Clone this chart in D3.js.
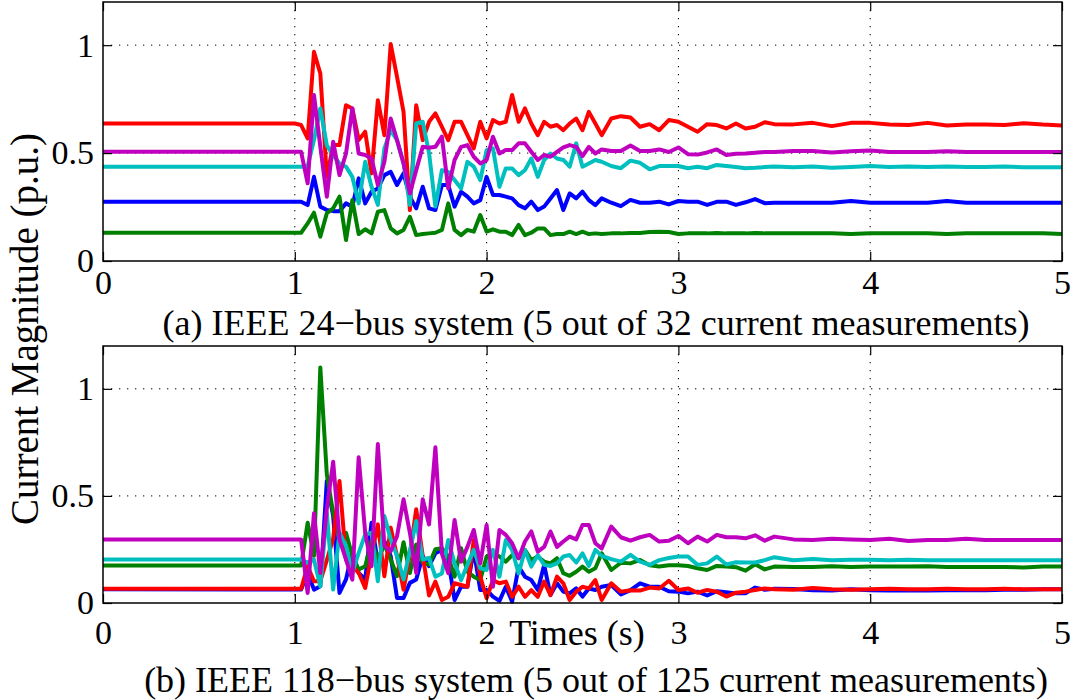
<!DOCTYPE html>
<html>
<head>
<meta charset="utf-8">
<script src="https://cdn.jsdelivr.net/npm/d3@7"></script>
<style>
  body { margin: 0; background: #fff; }
  svg { display: block; font-family: "Liberation Serif", "Times New Roman", serif; }
</style>
</head>
<body>
<svg id="chart" width="1071" height="700"></svg>
<script>
// sample times (s) shared by both panels
const time = [0,
  1.000, 1.033, 1.067, 1.100, 1.133, 1.167, 1.200, 1.233, 1.267, 1.300, 1.333, 1.367,
  1.400, 1.433, 1.467, 1.500, 1.533, 1.567, 1.600, 1.633, 1.667, 1.700, 1.733, 1.767,
  1.800, 1.833, 1.867, 1.900, 1.933, 1.967, 2.000, 2.033, 2.067, 2.100, 2.133, 2.167,
  2.200, 2.233, 2.267, 2.300, 2.333, 2.367, 2.400, 2.433, 2.467, 2.500, 2.533, 2.567,
  2.60, 2.65, 2.70, 2.75, 2.80, 2.85, 2.90, 2.95, 3.00, 3.05, 3.10, 3.15, 3.20, 3.25,
  3.30, 3.35, 3.40, 3.45, 3.50,
  3.6, 3.7, 3.8, 3.9, 4.0, 4.1, 4.2, 4.3, 4.4, 4.5, 4.6, 4.7, 4.8, 4.9, 5.0];

// (a) IEEE 24-bus, current magnitudes (p.u.)
const bus24Blue = [0.275,
  0.275, 0.275, 0.259, 0.39, 0.252, 0.236, 0.231, 0.231, 0.267, 0.252, 0.383, 0.267,
  0.321, 0.336, 0.398, 0.413, 0.352, 0.406, 0.298, 0.244, 0.344, 0.244, 0.236, 0.352,
  0.352, 0.252, 0.321, 0.298, 0.267, 0.282, 0.39, 0.306, 0.306, 0.298, 0.29, 0.259,
  0.244, 0.275, 0.236, 0.252, 0.29, 0.329, 0.236, 0.313, 0.29, 0.321, 0.282, 0.259,
  0.29, 0.27, 0.254, 0.283, 0.27, 0.27, 0.275, 0.262, 0.278, 0.275, 0.275, 0.26, 0.274,
  0.275, 0.26, 0.272, 0.287, 0.268, 0.27,
  0.27, 0.27, 0.27, 0.278, 0.27, 0.27, 0.27, 0.27, 0.278, 0.27, 0.27, 0.27, 0.27, 0.27, 0.27];
const bus24Green = [0.131,
  0.131, 0.131, 0.174, 0.224, 0.113, 0.221, 0.244, 0.298, 0.097, 0.282, 0.125, 0.147,
  0.128, 0.228, 0.236, 0.151, 0.128, 0.144, 0.205, 0.12, 0.125, 0.128, 0.131, 0.144,
  0.267, 0.144, 0.12, 0.144, 0.136, 0.213, 0.136, 0.147, 0.136, 0.136, 0.12, 0.167,
  0.12, 0.131, 0.151, 0.151, 0.12, 0.125, 0.125, 0.136, 0.125, 0.136, 0.125, 0.128,
  0.125, 0.128, 0.128, 0.13, 0.13, 0.134, 0.135, 0.134, 0.125, 0.128, 0.128, 0.128, 0.13,
  0.128, 0.128, 0.128, 0.13, 0.128, 0.128,
  0.128, 0.128, 0.128, 0.125, 0.128, 0.128, 0.128, 0.128, 0.125, 0.128, 0.128, 0.128, 0.128, 0.128, 0.125];
const bus24Red = [0.637,
  0.637, 0.63, 0.568, 0.969, 0.869, 0.39, 0.537, 0.537, 0.722, 0.707, 0.56, 0.599,
  0.406, 0.745, 0.583, 1.005, 0.853, 0.691, 0.236, 0.722, 0.56, 0.645, 0.684, 0.622,
  0.56, 0.645, 0.645, 0.583, 0.522, 0.645, 0.568, 0.653, 0.637, 0.645, 0.769, 0.645,
  0.707, 0.637, 0.583, 0.645, 0.622, 0.63, 0.606, 0.637, 0.66, 0.606, 0.691, 0.637,
  0.583, 0.66, 0.671, 0.665, 0.622, 0.634, 0.606, 0.653, 0.645, 0.622, 0.599, 0.634, 0.63,
  0.614, 0.637, 0.614, 0.622, 0.643, 0.634,
  0.633, 0.64, 0.625, 0.64, 0.64, 0.632, 0.63, 0.64, 0.628, 0.632, 0.632, 0.63, 0.638, 0.632, 0.628];
const bus24Cyan = [0.437,
  0.437, 0.437, 0.44, 0.56, 0.707, 0.536, 0.49, 0.452, 0.437, 0.39, 0.267, 0.46,
  0.344, 0.26, 0.521, 0.606, 0.56, 0.452, 0.26, 0.637, 0.645, 0.5, 0.252, 0.421,
  0.413, 0.375, 0.336, 0.46, 0.437, 0.375, 0.514, 0.522, 0.344, 0.429, 0.429, 0.398,
  0.421, 0.475, 0.39, 0.468, 0.498, 0.475, 0.468, 0.437, 0.545, 0.437, 0.452, 0.468,
  0.46, 0.44, 0.43, 0.465, 0.455, 0.425, 0.44, 0.44, 0.44, 0.43, 0.437, 0.43, 0.445,
  0.44, 0.435, 0.43, 0.432, 0.435, 0.438,
  0.434, 0.438, 0.432, 0.436, 0.44, 0.436, 0.438, 0.436, 0.438, 0.436, 0.436, 0.438, 0.434, 0.434, 0.434];
const bus24Magenta = [0.506,
  0.506, 0.506, 0.36, 0.769, 0.53, 0.298, 0.552, 0.398, 0.498, 0.707, 0.498, 0.491,
  0.475, 0.352, 0.46, 0.66, 0.56, 0.452, 0.313, 0.421, 0.529, 0.525, 0.529, 0.576,
  0.336, 0.468, 0.529, 0.537, 0.483, 0.452, 0.468, 0.576, 0.498, 0.514, 0.514, 0.545,
  0.545, 0.506, 0.468, 0.491, 0.483, 0.506, 0.526, 0.537, 0.529, 0.486, 0.529, 0.498,
  0.517, 0.51, 0.51, 0.535, 0.51, 0.51, 0.517, 0.505, 0.526, 0.495, 0.493, 0.503, 0.517,
  0.491, 0.497, 0.498, 0.502, 0.505, 0.505,
  0.51, 0.51, 0.503, 0.508, 0.512, 0.505, 0.505, 0.505, 0.508, 0.505, 0.505, 0.505, 0.505, 0.505, 0.505];

// (b) IEEE 118-bus, current magnitudes (p.u.)
const bus118Blue = [0.064,
  0.0625, 0.0625, 0.14, 0.0625, 0.078, 0.57, 0.406, 0.047, 0.11, 0.242, 0.14, 0.11,
  0.375, 0.1875, 0.289, 0.219, 0.023, 0.023, 0.094, 0.11, 0.219, 0.172, 0.232, 0.248,
  0.201, 0.014, 0.076, 0.076, 0.248, 0.061, 0.061, 0.03, 0.01, 0.076, 0.006, 0.17,
  0.123, 0.107, 0.061, 0.178, 0.037, 0.092, 0.053, 0.045, 0.068, 0.03, 0.068, 0.061,
  0.076, 0.084, 0.04, 0.06, 0.092, 0.076, 0.076, 0.055, 0.053, 0.045, 0.053, 0.035, 0.055,
  0.05, 0.045, 0.045, 0.072, 0.062, 0.066,
  0.065, 0.06, 0.058, 0.064, 0.06, 0.058, 0.06, 0.058, 0.06, 0.06, 0.06, 0.062, 0.062, 0.064, 0.064];
const bus118Green = [0.175,
  0.175, 0.175, 0.375, 0.22, 1.1, 0.6, 0.42, 0.3, 0.328, 0.219, 0.156, 0.172,
  0.289, 0.203, 0.273, 0.203, 0.125, 0.284, 0.14, 0.273, 0.1875, 0.18, 0.251, 0.256,
  0.217, 0.123, 0.256, 0.146, 0.123, 0.107, 0.217, 0.232, 0.217, 0.193, 0.224, 0.209,
  0.248, 0.201, 0.217, 0.193, 0.185, 0.209, 0.139, 0.127, 0.146, 0.17, 0.146, 0.162,
  0.232, 0.154, 0.188, 0.185, 0.201, 0.176, 0.17, 0.176, 0.176, 0.173, 0.162, 0.154, 0.173,
  0.17, 0.167, 0.151, 0.181, 0.157, 0.17,
  0.168, 0.168, 0.172, 0.168, 0.17, 0.17, 0.17, 0.172, 0.168, 0.168, 0.168, 0.168, 0.166, 0.17, 0.17];
const bus118Red = [0.066,
  0.066, 0.066, 0.172, 0.102, 0.102, 0.2, 0.3, 0.57, 0.203, 0.172, 0.141, 0.07,
  0.227, 0.367, 0.125, 0.352, 0.219, 0.0625, 0.227, 0.438, 0.219, 0.035, 0.1, 0.014,
  0.029, 0.092, 0.084, 0.076, 0.294, 0.123, 0.022, 0.107, 0.092, 0.1, 0.029, 0.076,
  0.029, 0.06, 0.029, 0.1, 0.037, 0.123, 0.092, 0.014, 0.053, 0.076, 0.068, 0.107,
  0.014, 0.092, 0.053, 0.06, 0.058, 0.072, 0.068, 0.104, 0.061, 0.068, 0.048, 0.061, 0.053,
  0.03, 0.048, 0.053, 0.061, 0.068, 0.064,
  0.062, 0.07, 0.064, 0.062, 0.064, 0.066, 0.064, 0.064, 0.066, 0.064, 0.064, 0.066, 0.064, 0.064, 0.064];
const bus118Cyan = [0.203,
  0.203, 0.203, 0.1875, 0.203, 0.078, 0.42, 0.0625, 0.328, 0.266, 0.14, 0.234, 0.32,
  0.328, 0.102, 0.406, 0.297, 0.219, 0.11, 0.242, 0.383, 0.203, 0.21, 0.123, 0.138,
  0.294, 0.185, 0.107, 0.178, 0.248, 0.162, 0.154, 0.248, 0.123, 0.294, 0.248, 0.138,
  0.248, 0.17, 0.224, 0.178, 0.173, 0.185, 0.217, 0.224, 0.189, 0.232, 0.173, 0.248,
  0.22, 0.205, 0.193, 0.225, 0.193, 0.178, 0.2, 0.21, 0.217, 0.217, 0.178, 0.185, 0.217,
  0.18, 0.19, 0.189, 0.189, 0.2, 0.214,
  0.2, 0.205, 0.2, 0.202, 0.202, 0.2, 0.202, 0.2, 0.2, 0.2, 0.2, 0.2, 0.2, 0.2, 0.2];
const bus118Magenta = [0.297,
  0.297, 0.297, 0.047, 0.419, 0.14, 0.44, 0.66, 0.297, 0.203, 0.109, 0.68, 0.328,
  0.172, 0.742, 0.266, 0.242, 0.312, 0.484, 0.328, 0.14, 0.484, 0.367, 0.727, 0.23,
  0.139, 0.388, 0.193, 0.262, 0.341, 0.185, 0.364, 0.076, 0.341, 0.318, 0.279, 0.209,
  0.287, 0.334, 0.24, 0.262, 0.334, 0.262, 0.287, 0.31, 0.297, 0.364, 0.364, 0.279,
  0.255, 0.357, 0.307, 0.291, 0.307, 0.318, 0.287, 0.291, 0.313, 0.279, 0.31, 0.287, 0.318,
  0.307, 0.307, 0.302, 0.316, 0.291, 0.31,
  0.297, 0.294, 0.3, 0.297, 0.294, 0.3, 0.29, 0.294, 0.294, 0.3, 0.294, 0.294, 0.294, 0.294, 0.294];

// MATLAB default line order: b, g, r, c, m
const colors = ["#0000ff", "#008000", "#ff0000", "#00bfbf", "#bf00bf"];
const xTicks = [0, 1, 2, 3, 4, 5];
const yTicks = [0, 0.5, 1];
const yTickLabels = ["0", "0.5", "1"];
const captions = [
  "(a) IEEE 24\u2212bus system (5 out of 32 current measurements)",
  "(b) IEEE 118\u2212bus system (5 out of 125 current measurements)"
];

const panels = [
  { series: [bus24Blue, bus24Green, bus24Red, bus24Cyan, bus24Magenta], top: 2, bottom: 261, caption: captions[0], capY: 335, xPad: 9 },
  { series: [bus118Blue, bus118Green, bus118Red, bus118Cyan, bus118Magenta], top: 346, bottom: 603, caption: captions[1], capY: 692, xPad: 17 }
];

const left = 103, right = 1062;
const tickLen = 9;
const fontSize = 34;

const svg = d3.select("#chart");

const x = d3.scaleLinear().domain([0, 5]).range([left, right]);

panels.forEach((p, pi) => {
  const y = d3.scaleLinear().domain([0, 1.2]).range([p.bottom, p.top]);
  const g = svg.append("g");

  // dotted grid
  g.append("g")
    .selectAll("line")
    .data(xTicks.slice(1, -1))
    .enter()
    .append("line")
    .attr("x1", d => x(d)).attr("x2", d => x(d))
    .attr("y1", p.top).attr("y2", p.bottom)
    .attr("stroke", "#000")
    .attr("stroke-width", 1)
    .attr("stroke-dasharray", "1.3,6.7");
  g.append("g")
    .selectAll("line")
    .data(yTicks.slice(1))
    .enter()
    .append("line")
    .attr("x1", left).attr("x2", right)
    .attr("y1", d => y(d)).attr("y2", d => y(d))
    .attr("stroke", "#000")
    .attr("stroke-width", 1)
    .attr("stroke-dasharray", "1.3,6.7");

  // series
  const line = d3.line()
    .x((d, i) => x(time[i]))
    .y(d => y(d));
  g.append("g")
    .selectAll("path")
    .data(p.series)
    .enter()
    .append("path")
    .attr("d", d => line(d))
    .attr("fill", "none")
    .attr("stroke", (d, i) => colors[i])
    .attr("stroke-width", 4)
    .attr("stroke-linejoin", "round");

  // axes (ticks pointing in, MATLAB style)
  const xAxis = d3.axisBottom(x).tickValues(xTicks).tickFormat(d3.format("d"))
    .tickSizeInner(-tickLen).tickSizeOuter(0).tickPadding(p.xPad);
  const xAxisTop = d3.axisTop(x).tickValues(xTicks).tickFormat("")
    .tickSizeInner(-tickLen).tickSizeOuter(0);
  const yAxis = d3.axisLeft(y).tickValues(yTicks).tickFormat((d, i) => yTickLabels[i])
    .tickSizeInner(-tickLen).tickSizeOuter(0).tickPadding(9);
  const yAxisRight = d3.axisRight(y).tickValues(yTicks).tickFormat("")
    .tickSizeInner(-tickLen).tickSizeOuter(0);

  const gx = g.append("g").attr("transform", `translate(0,${p.bottom})`).call(xAxis);
  g.append("g").attr("transform", `translate(0,${p.top})`).call(xAxisTop);
  const gy = g.append("g").attr("transform", `translate(${left},0)`).call(yAxis);
  g.append("g").attr("transform", `translate(${right},0)`).call(yAxisRight);

  g.selectAll(".domain").remove();
  g.selectAll(".tick line").attr("stroke", "#000").attr("stroke-width", 1.2);
  gx.selectAll("text").attr("font-size", fontSize).attr("font-family", "Liberation Serif").attr("fill", "#000")
    .attr("dy", "0.72em");
  gy.selectAll("text").attr("font-size", fontSize).attr("font-family", "Liberation Serif").attr("fill", "#000")
    .attr("dy", "0.32em");

  // box
  g.append("rect")
    .attr("x", left).attr("y", p.top)
    .attr("width", right - left).attr("height", p.bottom - p.top)
    .attr("fill", "none")
    .attr("stroke", "#000")
    .attr("stroke-width", 1.5);

  // caption
  svg.append("text")
    .attr("x", 596)
    .attr("y", p.capY)
    .attr("text-anchor", "middle")
    .attr("font-size", 36)
    .text(p.caption);
});

// axis labels
svg.append("text")
  .attr("x", 577)
  .attr("y", 645)
  .attr("text-anchor", "middle")
  .attr("font-size", 36)
  .text("Times (s)");

svg.append("text")
  .attr("transform", "translate(38,329) rotate(-90)")
  .attr("text-anchor", "middle")
  .attr("font-size", 39)
  .text("Current Magnitude (p.u.)");
</script>
</body>
</html>
